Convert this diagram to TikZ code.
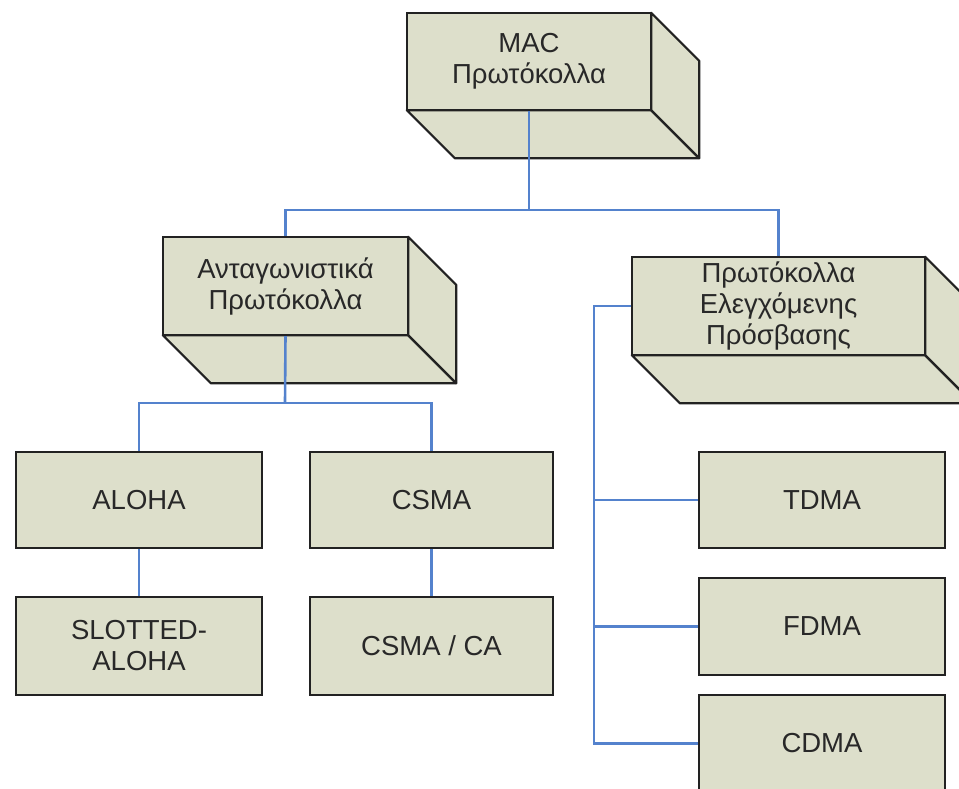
\documentclass[tikz,border=0pt]{standalone}
\usepackage{fontspec}
\setmainfont{Liberation Sans}
\definecolor{boxfill}{RGB}{221,223,203}
\definecolor{boxline}{RGB}{34,34,34}
\definecolor{wire}{RGB}{84,130,205}
\definecolor{ink}{RGB}{40,40,40}
\tikzset{
  face/.style={draw=boxline, fill=boxfill, line width=2.2pt, inner sep=0pt,
    align=center, text=ink, font=\fontsize{27.5}{31}\selectfont},
  slab/.style={draw=boxline, fill=boxfill, line width=2.2pt, line join=round},
  link/.style={draw=wire, line width=2.6pt}
}
% extruded lower/right faces of a 3D box behind the node #1
\newcommand\extrude[2]{%
  \path[slab] (#1.south west) -- (#1.south east) -- ++(#2,#2)
    -- ([shift={(#2,#2)}]#1.south west) -- cycle;
  \path[slab] (#1.north east) -- ++(#2,#2) -- ([shift={(#2,#2)}]#1.south east)
    -- (#1.south east) -- cycle;
}
\begin{document}
\begin{tikzpicture}[x=1pt,y=-1pt]
\useasboundingbox (0,0) rectangle (959,788);
\clip (0,0) rectangle (959,788);

% front faces of the three category boxes (positions only, drawn later)
\path node[minimum width=244pt, minimum height=97pt] (mac) at (529,61.5) {};
\path node[minimum width=245pt, minimum height=98pt] (comp) at (285.5,286) {};
\path node[minimum width=293pt, minimum height=98pt] (ctrl) at (778.5,306) {};

\extrude{mac}{48}
\extrude{comp}{48}
\extrude{ctrl}{48}

% connectors
\coordinate (j1) at (529,210);
\coordinate (j2) at (285,403);
\coordinate (bus) at (594,0);

\node[face, minimum width=246pt, minimum height=96pt] (aloha) at (139,500) {ALOHA};
\node[face, minimum width=246pt, minimum height=98pt] (slotted) at (139,646) {SLOTTED-\\ALOHA};
\node[face, minimum width=243pt, minimum height=96pt] (csma) at (431.5,500) {CSMA};
\node[face, minimum width=243pt, minimum height=98pt] (csmaca) at (431.5,646) {CSMA / CA};
\node[face, minimum width=246pt, minimum height=96pt] (tdma) at (822,500) {TDMA};
\node[face, minimum width=246pt, minimum height=97pt] (fdma) at (822,626.5) {FDMA};
\node[face, minimum width=246pt, minimum height=97pt] (cdma) at (822,743.5) {CDMA};

\draw[link] (mac.south) -- (j1);
\draw[link] (comp.north) |- (j1) -| (ctrl.north);
\draw[link] (comp.south) -- (j2);
\draw[link] (aloha.north) |- (j2) -| (csma.north);
\draw[link] (aloha.south) -- (slotted.north);
\draw[link] (csma.south) -- (csmaca.north);
\draw[link] (ctrl.west) -| (bus |- cdma.west) -- (cdma.west);
\draw[link] (bus |- tdma.west) -- (tdma.west);
\draw[link] (bus |- fdma.west) -- (fdma.west);

% front faces with their labels
\node[face, minimum width=244pt, minimum height=97pt] at (mac) {MAC\\Πρωτόκολλα};
\node[face, minimum width=245pt, minimum height=98pt] at (comp) {Ανταγωνιστικά\\Πρωτόκολλα};
\node[face, minimum width=293pt, minimum height=98pt] at (ctrl) {Πρωτόκολλα\\Ελεγχόμενης\\Πρόσβασης};
\end{tikzpicture}
\end{document}
